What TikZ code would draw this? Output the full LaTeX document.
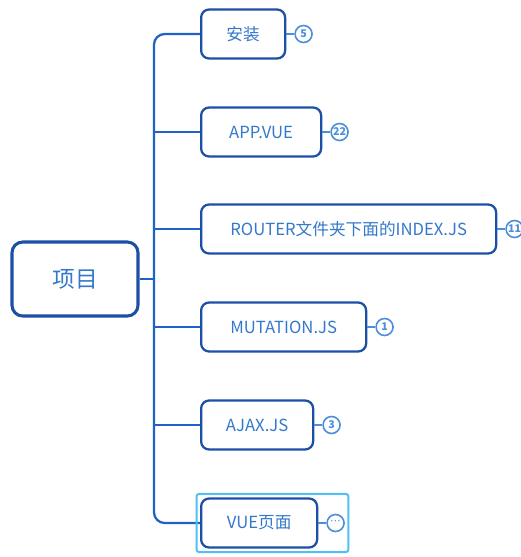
\documentclass[tikz,border=0pt]{standalone}
\usepackage{fontspec}
\setmainfont{Noto Sans CJK SC}
\newfontfamily\symfont{DejaVu Sans}
\usetikzlibrary{positioning, fit}
\definecolor{edgeblue}{HTML}{1E63C4}
\definecolor{boxblue}{HTML}{1C4FA6}
\definecolor{textblue}{HTML}{3478CC}
\definecolor{badgeblue}{HTML}{4C8EDB}
\definecolor{selblue}{HTML}{4EC0F5}
\newdimen\pxu \pxu=0.75pt

\begin{document}
\begin{tikzpicture}[x=0.75pt, y=-0.75pt,
    conn/.style={draw=edgeblue, line width=1.7pt},
    rootbox/.style={draw=boxblue, line width=2.3pt, rounded corners=8pt, fill=white,
        text=textblue, font=\fontsize{17}{20}\selectfont,
        minimum width=126\pxu, minimum height=74\pxu},
    topicbox/.style={draw=boxblue, line width=1.7pt, rounded corners=6pt, fill=white,
        text=textblue, font=\fontsize{12.5}{15}\selectfont, anchor=west,
        minimum height=49\pxu},
    badge/.style={draw=badgeblue, line width=1.2pt, circle, fill=white, inner sep=0pt,
        minimum size=17\pxu, text=badgeblue, font=\fontsize{8}{9}\selectfont\bfseries},
    selbox/.style={draw=selblue, line width=1.5pt, rounded corners=2pt, inner sep=3.5\pxu}]
    \useasboundingbox (0,0) rectangle (521,557);

    \node(root)[rootbox] at (75,279) {项目};

    \node(t1)[topicbox, minimum width=84\pxu] at (200,34) {安装};
    \node(t2)[topicbox, minimum width=120\pxu] at (200,132) {APP.VUE};
    \node(t3)[topicbox, minimum width=295\pxu] at (200,229) {ROUTER文件夹下面的INDEX.JS};
    \node(t4)[topicbox, minimum width=165\pxu] at (200,327) {MUTATION.JS};
    \node(t5)[topicbox, minimum width=112\pxu] at (200,425) {AJAX.JS};
    \node(t6)[topicbox, minimum width=116\pxu] at (200,523) {VUE页面};

    \node(b1)[badge, right=8\pxu of t1] {5};
    \node(b2)[badge, right=8\pxu of t2] {22};
    \node(b3)[badge, right=8\pxu of t3] {11};
    \node(b4)[badge, right=8\pxu of t4] {1};
    \node(b5)[badge, right=8\pxu of t5] {3};
    \node(b6)[badge, right=8\pxu of t6, font=\symfont\fontsize{8}{8}\selectfont] {⋯};

    % trunk and branches
    \coordinate(trunk) at (154,279);
    \draw[conn] (root) -- (trunk);
    \draw[conn, rounded corners=8pt] (t1.west) -| (trunk) |- (t6.west);
    \draw[conn] (t2.west) -- (t2.west -| trunk);
    \draw[conn] (t3.west) -- (t3.west -| trunk);
    \draw[conn] (t4.west) -- (t4.west -| trunk);
    \draw[conn] (t5.west) -- (t5.west -| trunk);

    % badges
    \draw[draw=badgeblue, line width=1.2pt] (t1) -- (b1);
    \draw[draw=badgeblue, line width=1.2pt] (t2) -- (b2);
    \draw[draw=badgeblue, line width=1.2pt] (t3) -- (b3);
    \draw[draw=badgeblue, line width=1.2pt] (t4) -- (b4);
    \draw[draw=badgeblue, line width=1.2pt] (t5) -- (b5);
    \draw[draw=badgeblue, line width=1.2pt] (t6) -- (b6);

    \node(sel)[selbox, fit=(t6)(b6)] {};
\end{tikzpicture}
\end{document}
